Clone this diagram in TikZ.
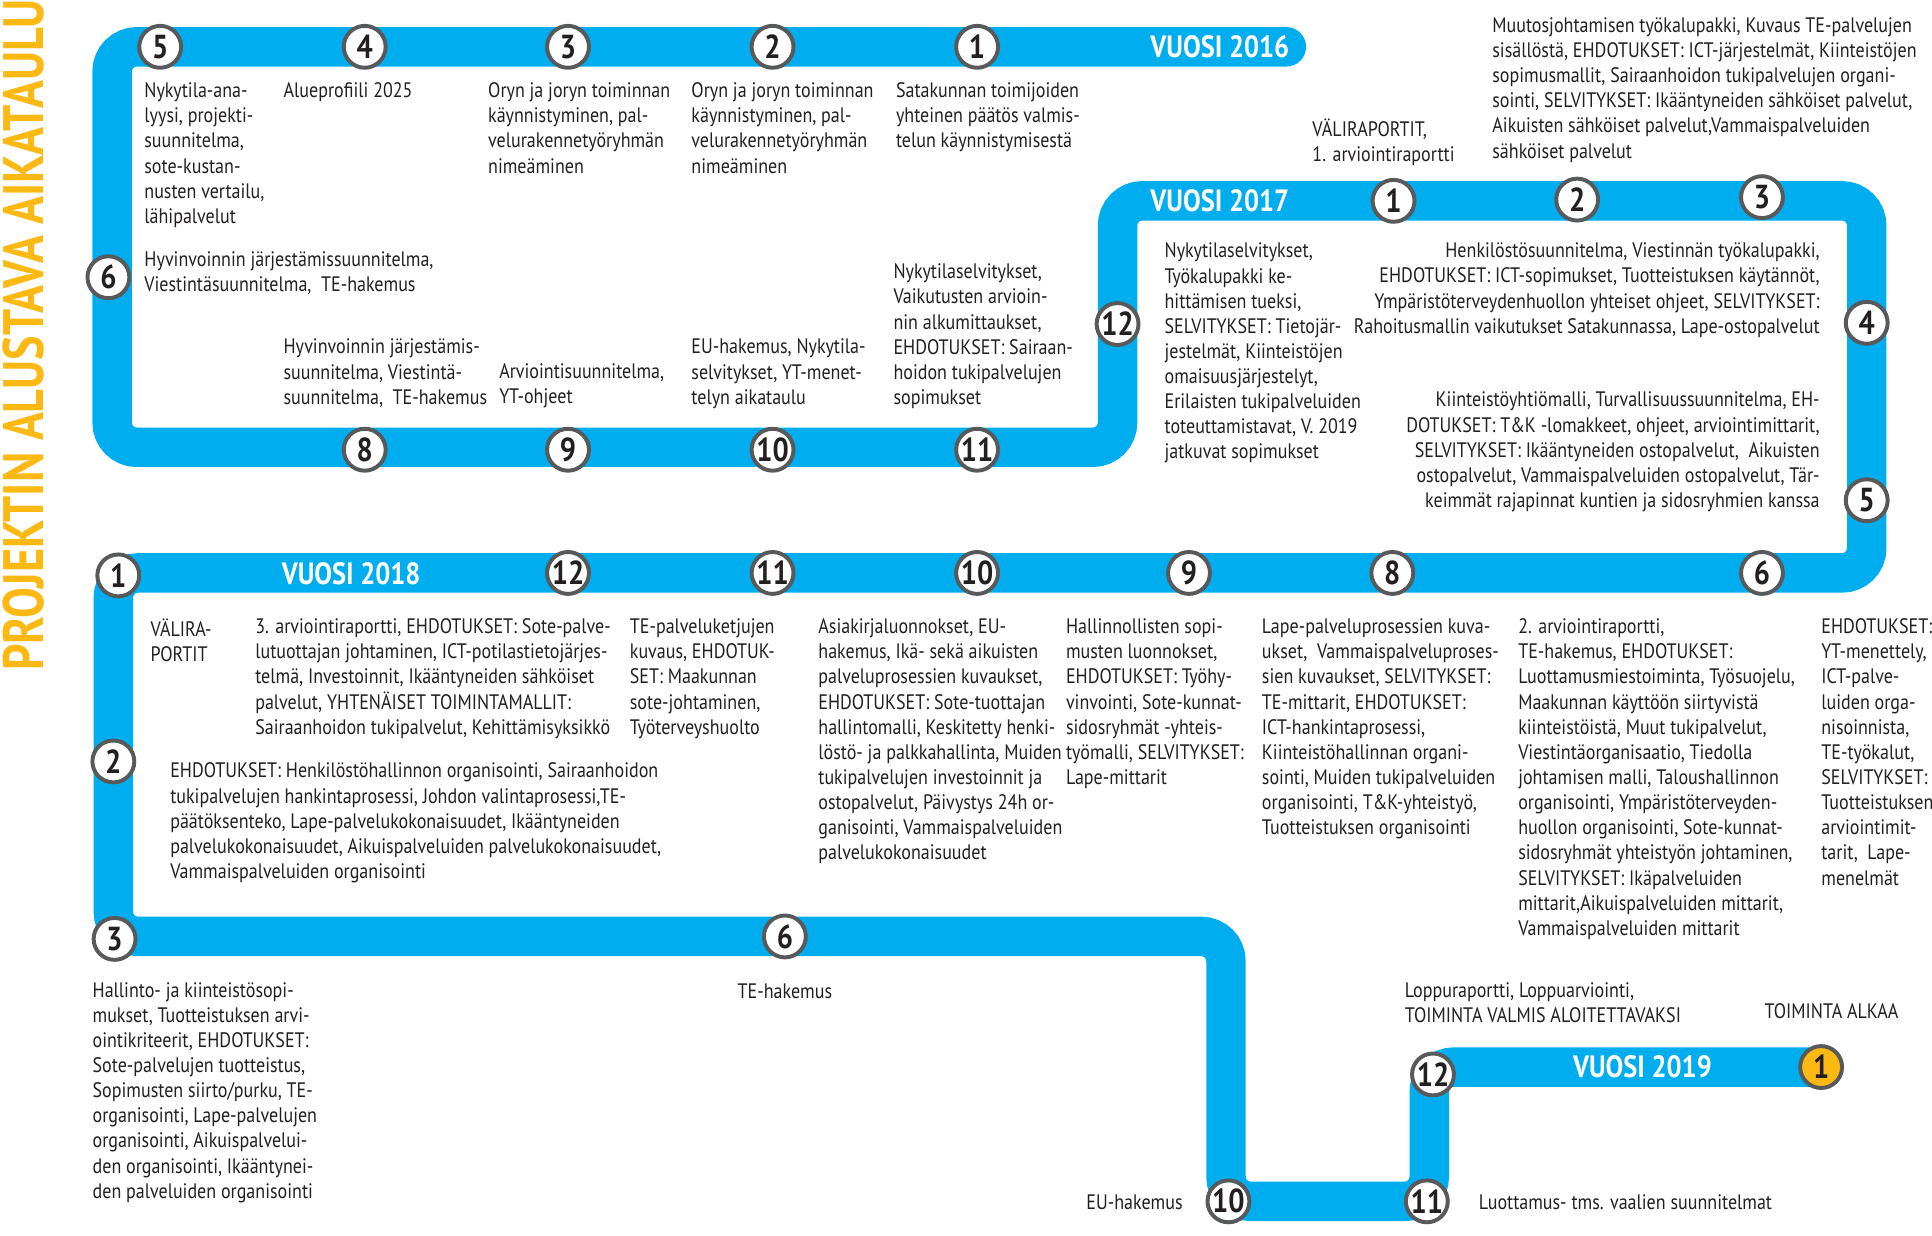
\documentclass[tikz,border=0pt]{standalone}
\usepackage{fontspec}
\usepackage{graphicx}
\setmainfont{PT Sans}[FakeStretch=0.86]
\definecolor{rata}{HTML}{00AEEF}
\definecolor{keltainen}{HTML}{FDB913}
\definecolor{rengas}{HTML}{58595B}
\definecolor{teksti}{HTML}{231F20}

\begin{document}
\begin{tikzpicture}[x=1pt, y=-1pt,
    pys/.style={circle, draw=rengas, line width=3.2pt, fill=white, minimum size=34pt,
      inner sep=0pt, text=teksti, font=\bfseries\fontsize{27}{27}\selectfont},
    vuosi/.style={text=white, inner sep=0pt, font=\bfseries\fontsize{25}{25}\selectfont},
    txt/.style={anchor=north west, align=left, inner sep=0pt, text=teksti,
      font=\fontsize{17}{20.4}\selectfont},
    txtr/.style={txt, anchor=north east, align=right}]

  \useasboundingbox (0,0) rectangle (1568,1003);

  % Otsikko
  \node[rotate=90, text=keltainen] (otsikko) at (19,272)
    {\resizebox{545pt}{33pt}{\bfseries PROJEKTIN ALUSTAVA AIKATAULU}};

  % Radan kulmapisteet
  \coordinate (r0) at (1044,38);
  \coordinate (r1) at (91,38);
  \coordinate (r2) at (91,363);
  \coordinate (r3) at (907,363);
  \coordinate (r4) at (907,163);
  \coordinate (r5) at (1515,163);
  \coordinate (r6) at (1515,465);
  \coordinate (r7) at (92,465);
  \coordinate (r8) at (92,760);
  \coordinate (r9) at (995,760);
  \coordinate (r10) at (995,975);
  \coordinate (r11) at (1160,975);
  \coordinate (r12) at (1160,866);
  \coordinate (r13) at (1478,866);

  % Rata
  \draw[rata, line width=32pt, rounded corners=20pt, line cap=round]
    (r0) -- (r1) -- (r2) -- (r3) -- (r4) -- (r5) -- (r6) -- (r7)
    -- (r8) -- (r9) -- (r10) -- (r11) -- (r12) -- (r13);

  % Vuodet
  \node[vuosi] (v16) at (990,38) {VUOSI 2016};
  \node[vuosi] (v17) at (990,163) {VUOSI 2017};
  \node[vuosi] (v18) at (285,466) {VUOSI 2018};
  \node[vuosi] (v19) at (1333,866) {VUOSI 2019};

  % Vuosi 2016
  \node[pys] (a1) at (793,38) {1};
  \node[pys] (a2) at (627,38) {2};
  \node[pys] (a3) at (461,38) {3};
  \node[pys] (a4) at (296,38) {4};
  \node[pys] (a5) at (130,38) {5};
  \node[pys] (a6) at (88,225) {6};
  \node[pys] (a8) at (296,365) {8};
  \node[pys] (a9) at (461,365) {9};
  \node[pys] (a10) at (627,365) {10};
  \node[pys] (a11) at (793,365) {11};
  \node[pys] (a12) at (907,263) {12};

  % Vuosi 2017
  \node[pys] (b1) at (1131,163) {1};
  \node[pys] (b2) at (1280,162) {2};
  \node[pys] (b3) at (1430,160) {3};
  \node[pys] (b4) at (1515,262) {4};
  \node[pys] (b5) at (1515,406) {5};
  \node[pys] (b6) at (1430,465) {6};
  \node[pys] (b8) at (1130,465) {8};
  \node[pys] (b9) at (965,465) {9};
  \node[pys] (b10) at (793,465) {10};
  \node[pys] (b11) at (627,465) {11};
  \node[pys] (b12) at (461,465) {12};

  % Vuosi 2018
  \node[pys] (c1) at (96,467) {1};
  \node[pys] (c2) at (92,618) {2};
  \node[pys] (c3) at (93,762) {3};
  \node[pys] (c6) at (637,760) {6};
  \node[pys] (c10) at (997,975) {10};
  \node[pys] (c11) at (1158,975) {11};
  \node[pys] (c12) at (1163,872) {12};

  % Vuosi 2019
  \node[pys, fill=keltainen] (d1) at (1478,866) {1};

  % Tekstit 2016
  \node[txt] (ta5) at (117,67) {Nykytila-ana-\\lyysi, projekti-\\suunnitelma,\\sote-kustan-\\nusten vertailu,\\lähipalvelut};
  \node[txt] (ta4) at (230,67) {Alueprofiili 2025};
  \node[txt] (ta3) at (396,67) {Oryn ja joryn toiminnan\\käynnistyminen, pal-\\velurakennetyöryhmän\\nimeäminen};
  \node[txt] (ta2) at (561,67) {Oryn ja joryn toiminnan\\käynnistyminen, pal-\\velurakennetyöryhmän\\nimeäminen};
  \node[txt] (ta1) at (727,67) {Satakunnan toimijoiden\\yhteinen päätös valmis-\\telun käynnistymisestä};
  \node[txt] (ta6) at (117,204) {Hyvinvoinnin järjestämissuunnitelma,\\Viestintäsuunnitelma,\ \ TE-hakemus};
  \node[txt] (ta8) at (230,275) {Hyvinvoinnin järjestämis-\\suunnitelma, Viestintä-\\suunnitelma,\ \ TE-hakemus};
  \node[txt] (ta9) at (405,295) {Arviointisuunnitelma,\\YT-ohjeet};
  \node[txt] (ta10) at (561,275) {EU-hakemus, Nykytila-\\selvitykset, YT-menet-\\telyn aikataulu};
  \node[txt] (ta11) at (725,214) {Nykytilaselvitykset,\\Vaikutusten arvioin-\\nin alkumittaukset,\\EHDOTUKSET: Sairaan-\\hoidon tukipalvelujen\\sopimukset};

  % Tekstit 2017
  \node[txt] (tb1) at (1065,96) {VÄLIRAPORTIT,\\1. arviointiraportti};
  \node[txt] (tb2) at (1211,14) {Muutosjohtamisen työkalupakki, Kuvaus TE-palvelujen\\sisällöstä, EHDOTUKSET: ICT-järjestelmät, Kiinteistöjen\\sopimusmallit, Sairaanhoidon tukipalvelujen organi-\\sointi, SELVITYKSET: Ikääntyneiden sähköiset palvelut,\\Aikuisten sähköiset palvelut,Vammaispalveluiden\\sähköiset palvelut};
  \node[txt] (tb12) at (945,197) {Nykytilaselvitykset,\\Työkalupakki ke-\\hittämisen tueksi,\\SELVITYKSET: Tietojär-\\jestelmät, Kiinteistöjen\\omaisuusjärjestelyt,\\Erilaisten tukipalveluiden\\toteuttamistavat, V. 2019\\jatkuvat sopimukset};
  \node[txtr] (tb4) at (1477,197) {Henkilöstösuunnitelma, Viestinnän työkalupakki,\\EHDOTUKSET: ICT-sopimukset, Tuotteistuksen käytännöt,\\Ympäristöterveydenhuollon yhteiset ohjeet, SELVITYKSET:\\Rahoitusmallin vaikutukset Satakunnassa, Lape-ostopalvelut};
  \node[txtr] (tb5) at (1477,318) {Kiinteistöyhtiömalli, Turvallisuussuunnitelma, EH-\\DOTUKSET: T\&K -lomakkeet, ohjeet, arviointimittarit,\\SELVITYKSET: Ikääntyneiden ostopalvelut,\ \ Aikuisten\\ostopalvelut, Vammaispalveluiden ostopalvelut, Tär-\\keimmät rajapinnat kuntien ja sidosryhmien kanssa};

  % Tekstit 2018-rivi
  \node[txt] (tc1) at (122,502) {VÄLIRA-\\PORTIT};
  \node[txt] (tb12t) at (207,502) {3. arviointiraportti, EHDOTUKSET: Sote-palve-\\lutuottajan johtaminen, ICT-potilastietojärjes-\\telmä, Investoinnit, Ikääntyneiden sähköiset\\palvelut, YHTENÄISET TOIMINTAMALLIT:\\Sairaanhoidon tukipalvelut, Kehittämisyksikkö};
  \node[txt] (tb11) at (511,502) {TE-palveluketjujen\\kuvaus, EHDOTUK-\\SET: Maakunnan\\sote-johtaminen,\\Työterveyshuolto};
  \node[txt] (tb10) at (664,502) {Asiakirjaluonnokset, EU-\\hakemus, Ikä- sekä aikuisten\\palveluprosessien kuvaukset,\\EHDOTUKSET: Sote-tuottajan\\hallintomalli, Keskitetty henki-\\löstö- ja palkkahallinta, Muiden\\tukipalvelujen investoinnit ja\\ostopalvelut, Päivystys 24h or-\\ganisointi, Vammaispalveluiden\\palvelukokonaisuudet};
  \node[txt] (tb9) at (865,502) {Hallinnollisten sopi-\\musten luonnokset,\\EHDOTUKSET: Työhy-\\vinvointi, Sote-kunnat-\\sidosryhmät -yhteis-\\työmalli, SELVITYKSET:\\Lape-mittarit};
  \node[txt] (tb8) at (1024,502) {Lape-palveluprosessien kuva-\\ukset,\ \ Vammaispalveluproses-\\sien kuvaukset, SELVITYKSET:\\TE-mittarit, EHDOTUKSET:\\ICT-hankintaprosessi,\\Kiinteistöhallinnan organi-\\sointi, Muiden tukipalveluiden\\organisointi, T\&K-yhteistyö,\\Tuotteistuksen organisointi};
  \node[txt] (tb6) at (1232,502) {2. arviointiraportti,\\TE-hakemus, EHDOTUKSET:\\Luottamusmiestoiminta, Työsuojelu,\\Maakunnan käyttöön siirtyvistä\\kiinteistöistä, Muut tukipalvelut,\\Viestintäorganisaatio, Tiedolla\\johtamisen malli, Taloushallinnon\\organisointi, Ympäristöterveyden-\\huollon organisointi, Sote-kunnat-\\sidosryhmät yhteistyön johtaminen,\\SELVITYKSET: Ikäpalveluiden\\mittarit,Aikuispalveluiden mittarit,\\Vammaispalveluiden mittarit};
  \node[txt] (tb5b) at (1478,502) {EHDOTUKSET:\\YT-menettely,\\ICT-palve-\\luiden orga-\\nisoinnista,\\TE-työkalut,\\SELVITYKSET:\\Tuotteistuksen\\arviointimit-\\tarit,\ \ Lape-\\menelmät};
  \node[txt] (tc2) at (138,619) {EHDOTUKSET: Henkilöstöhallinnon organisointi, Sairaanhoidon\\tukipalvelujen hankintaprosessi, Johdon valintaprosessi,TE-\\päätöksenteko, Lape-palvelukokonaisuudet, Ikääntyneiden\\palvelukokonaisuudet, Aikuispalveluiden palvelukokonaisuudet,\\Vammaispalveluiden organisointi};

  % Tekstit alarivi
  \node[txt] (tc3) at (75,797) {Hallinto- ja kiinteistösopi-\\mukset, Tuotteistuksen arvi-\\ointikriteerit, EHDOTUKSET:\\Sote-palvelujen tuotteistus,\\Sopimusten siirto/purku, TE-\\organisointi, Lape-palvelujen\\organisointi, Aikuispalvelui-\\den organisointi, Ikääntynei-\\den palveluiden organisointi};
  \node[txt, anchor=north] (tc6) at (637,798) {TE-hakemus};
  \node[txt, anchor=east] (tc10) at (960,976) {EU-hakemus};
  \node[txt, anchor=west] (tc11) at (1200,976) {Luottamus- tms. vaalien suunnitelmat};
  \node[txt] (tc12) at (1140,797) {Loppuraportti, Loppuarviointi,\\TOIMINTA VALMIS ALOITETTAVAKSI};
  \node[txt] (td1) at (1432,814) {TOIMINTA ALKAA};

\end{tikzpicture}
\end{document}
